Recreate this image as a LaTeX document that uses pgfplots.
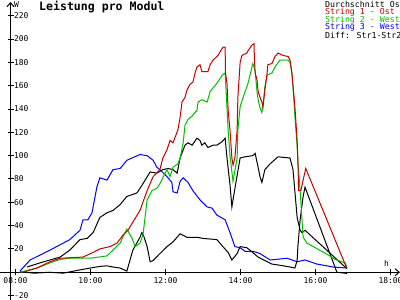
\documentclass[border=0pt]{standalone}
\usepackage{fontspec}
\setmainfont{DejaVu Sans Mono}
\usepackage{pgfplots}
\pgfplotsset{compat=1.18}
\usetikzlibrary{arrows.meta}
\definecolor{cred}{RGB}{200,0,0}
\definecolor{cgreen}{RGB}{0,190,0}
\definecolor{cblue}{RGB}{0,0,255}
\begin{document}
\begin{tikzpicture}
\begin{axis}[
  scale only axis, width=389.4bp, height=297.9bp,
  xmin=7.867, xmax=18.25, ymin=-23.7, ymax=231.8,
  axis x line=middle, axis y line=left,
  axis line style={line width=1bp, -{Straight Barb[length=4bp,width=7bp]}},
  clip=false,
  xtick={8,10,12,14,16,18},
  xticklabels={08:00,10:00,12:00,14:00,16:00,18:00},
  ytick={-20,20,40,60,80,100,120,140,160,180,200,220},
  yticklabels={-20,20,40,60,80,100,120,140,160,180,200,220},
  tick align=center, major tick length=6bp,
  tick style={black, line width=1bp},
  ticklabel style={font=\fontsize{8}{9}\selectfont},
  yticklabel style={anchor=west, xshift=3bp},
  xticklabel style={anchor=north, yshift=1bp},
  every axis plot/.append style={line width=1bp, mark=none},
]
\draw[line width=1bp] (axis cs:7.587,0) -- (axis cs:7.867,0);
% String 3 - West (blue)
\addplot[cblue] coordinates {(8.12,1) (8.39,10.5) (8.92,19) (9.45,28) (9.72,36) (9.80,45) (9.93,45) (10.04,51) (10.17,73) (10.25,81) (10.44,79) (10.60,88) (10.79,89) (10.97,96) (11.32,101) (11.51,100) (11.67,96) (11.77,90) (11.85,88) (12.04,82) (12.17,77) (12.20,69) (12.31,68) (12.39,78) (12.47,81) (12.60,77) (12.73,70) (12.92,62) (13.11,56) (13.24,55) (13.37,49) (13.59,45) (13.72,34) (13.85,22) (13.99,21) (14.12,18) (14.33,18) (14.52,16) (14.79,10.5) (15.24,12) (15.51,9) (15.72,10.5) (16.04,7) (16.47,4.5) (16.84,3.6)};
% Diff: Str1-Str2 (black)
\addplot[black] coordinates {(8.12,0.5) (8.5,-0.8) (8.9,0) (9.27,-0.8) (9.72,2) (9.99,3.6) (10.25,5) (10.44,5.5) (10.60,4.5) (10.79,3.6) (10.97,1) (11.13,19) (11.32,30) (11.37,34) (11.42,31) (11.51,22) (11.59,9) (11.67,10) (11.85,16) (12.04,22) (12.20,26) (12.39,33) (12.57,30) (12.84,30) (13.00,29) (13.37,28) (13.53,22) (13.67,17) (13.77,10.5) (13.91,16) (13.99,22) (14.17,21) (14.25,19) (14.47,13) (14.71,9) (14.84,7) (15.05,6) (15.32,4.5) (15.45,3.6) (15.51,10) (15.53,22) (15.59,45) (15.67,65) (15.72,73) (16.57,0) (16.84,-1)};
% Durchschnitt (black)
\addplot[black] coordinates {(8.31,4.5) (8.65,8) (9.19,13) (9.45,19) (9.72,28) (9.91,29) (10.07,34) (10.25,47) (10.44,51) (10.60,53) (10.79,58) (10.97,65) (11.24,68) (11.40,76) (11.59,86) (11.77,85) (11.93,88) (12.07,89) (12.20,88) (12.31,85) (12.39,98) (12.52,109) (12.60,111) (12.71,109) (12.84,115) (12.92,113) (12.97,109) (13.05,111) (13.13,107) (13.27,109) (13.37,109) (13.51,112) (13.59,115) (13.64,98) (13.72,75) (13.77,56) (13.80,62) (13.91,83) (13.99,98) (14.12,99) (14.33,100) (14.39,102) (14.47,90) (14.52,82) (14.57,77) (14.65,88) (14.79,93) (15.00,99) (15.32,98) (15.40,88) (15.51,47) (15.59,36) (15.64,34) (15.72,36) (16.84,3)};
% String 2 - West (green)
\addplot[cgreen] coordinates {(8.12,0) (8.57,3.6) (8.92,8) (9.19,11) (9.45,12) (9.99,12) (10.44,14) (10.60,19) (10.79,25) (10.92,34) (10.97,37) (11.11,29) (11.19,22) (11.32,25) (11.40,32) (11.51,62) (11.64,70) (11.77,72) (11.85,76) (12.04,88) (12.12,82) (12.20,90) (12.33,93) (12.39,98) (12.47,111) (12.52,126) (12.60,131) (12.71,134) (12.84,139) (12.87,146) (12.97,148) (13.11,146) (13.19,155) (13.37,162) (13.51,169) (13.59,171) (13.64,141) (13.67,122) (13.72,100) (13.80,78) (13.91,98) (13.93,122) (13.99,142) (14.07,150) (14.20,162) (14.33,179) (14.39,173) (14.44,155) (14.47,148) (14.52,141) (14.57,137) (14.60,143) (14.65,159) (14.71,169) (14.84,171) (14.92,176) (15.05,182) (15.27,182) (15.32,180) (15.37,171) (15.40,159) (15.45,134) (15.51,108) (15.53,96) (15.59,70) (15.67,30) (15.77,25) (16.33,15) (16.52,11) (16.79,8) (16.84,4)};
% String 1 - Ost (red)
\addplot[cred] coordinates {(8.20,0) (8.57,3.6) (8.92,9) (9.19,12) (9.80,13) (10.07,17) (10.25,20) (10.52,22) (10.71,25) (10.87,32) (11.00,36) (11.13,43) (11.32,53) (11.51,70) (11.67,82) (11.85,88) (11.93,98) (12.04,105) (12.12,113) (12.20,111) (12.33,122) (12.39,133) (12.44,146) (12.52,150) (12.57,156) (12.65,161) (12.73,163) (12.79,171) (12.84,176) (12.92,178) (12.97,172) (13.13,172) (13.19,178) (13.27,182) (13.40,186) (13.53,193) (13.59,193) (13.60,171) (13.64,162) (13.67,139) (13.72,122) (13.77,98) (13.80,92) (13.85,98) (13.91,122) (13.93,150) (13.99,180) (14.04,186) (14.17,188) (14.20,190) (14.31,195) (14.36,196) (14.37,184) (14.39,171) (14.44,165) (14.47,155) (14.52,150) (14.57,146) (14.60,142) (14.65,156) (14.71,171) (14.73,178) (14.84,179) (14.92,185) (15.00,188) (15.13,186) (15.27,185) (15.32,182) (15.37,171) (15.40,160) (15.45,142) (15.51,113) (15.53,96) (15.55,70) (15.61,70) (15.67,79) (15.74,89) (16.83,3.7)};
% labels
\node[anchor=west, inner sep=0, font=\bfseries\fontsize{11.6}{12}\selectfont] at (axis cs:8.627,227.5) {Leistung pro Modul};
\node[anchor=west, inner sep=0, font=\fontsize{8}{9}\selectfont] at (axis cs:7.96,229.7) {W};
\node[inner sep=0, font=\fontsize{8}{9}\selectfont] at (axis cs:17.893,7.5) {h};
\node[anchor=west, inner sep=0, font=\fontsize{8.3}{9}\selectfont] at (axis cs:16.25,229.8) {Durchschnitt Os};
\node[anchor=west, inner sep=0, font=\fontsize{8.3}{9}\selectfont, text=cred] at (axis cs:16.25,223) {String 1 - Ost};
\node[anchor=west, inner sep=0, font=\fontsize{8.3}{9}\selectfont, text=cgreen] at (axis cs:16.25,216.4) {String 2 - West};
\node[anchor=west, inner sep=0, font=\fontsize{8.3}{9}\selectfont, text=cblue] at (axis cs:16.25,209.8) {String 3 - West};
\node[anchor=west, inner sep=0, font=\fontsize{8.3}{9}\selectfont] at (axis cs:16.25,202.9) {Diff: Str1-Str2};
\coordinate (BL) at (axis cs:7.587,-23.76);
\coordinate (TR) at (axis cs:18.253,233.5);
\end{axis}
\pgfresetboundingbox
\path[use as bounding box] (BL) rectangle (TR);
\end{tikzpicture}
\end{document}
